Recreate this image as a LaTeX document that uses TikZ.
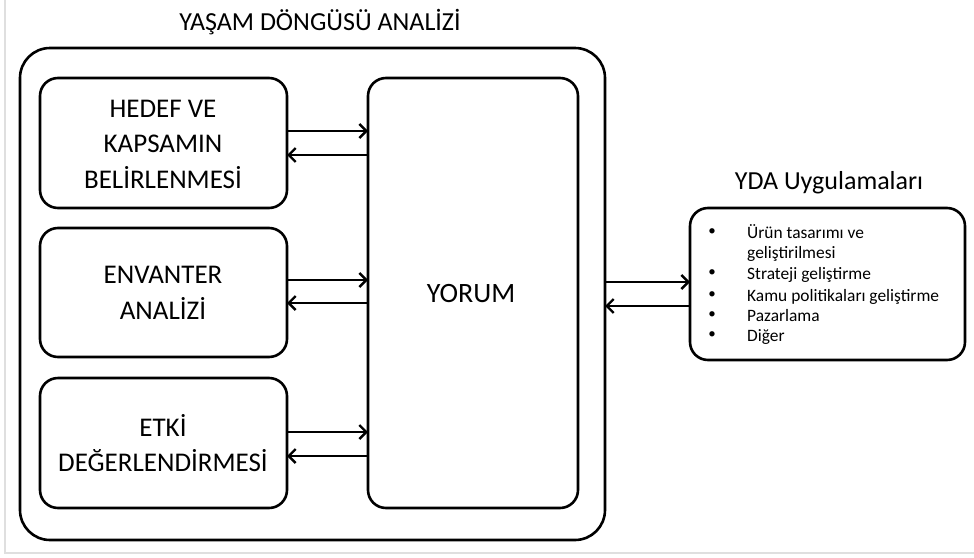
\documentclass[tikz,border=0pt]{standalone}
\usepackage{fontspec}
\setmainfont{Carlito}
\usetikzlibrary{arrows.meta}
\tikzset{
  panel/.style={draw=black, line width=2.6pt, rounded corners=30pt, fill=white},
  stage/.style={draw=black, line width=2.6pt, rounded corners=18pt, fill=white},
  flow/.style={line width=2.4pt, -{Straight Barb[length=7pt,width=14pt,line width=2.4pt]}},
  bigtext/.style={font=\fontsize{27}{35.5}\selectfont, align=center},
  listtext/.style={font=\fontsize{17.4}{20.7}\selectfont, anchor=base west, inner sep=0pt},
  bullet/.style={font=\fontsize{15}{18}\selectfont},
}
\begin{document}
\begin{tikzpicture}[x=1pt,y=-1pt]
  \useasboundingbox (0,0) rectangle (974,557);
  % page frame
  \draw[gray!25, line width=1.5pt] (5,0) -- (5,553) -- (974,553);

  % life cycle analysis frame
  \node[font=\fontsize{26}{30}\selectfont] (title) at (320,22) {YAŞAM DÖNGÜSÜ ANALİZİ};
  \draw[panel] (20,48) rectangle (605,540);

  % stages
  \draw[stage] (40,78) rectangle (287,208);
  \node[bigtext] (goal) at (163,144) {HEDEF VE\\KAPSAMIN\\BELİRLENMESİ};
  \draw[stage] (40,228) rectangle (287,357);
  \node[bigtext] (inv) at (163,293) {ENVANTER\\ANALİZİ};
  \draw[stage] (40,378) rectangle (287,508);
  \node[bigtext] (imp) at (163,443) {ETKİ\\DEĞERLENDİRMESİ};

  % interpretation
  \draw[stage] (368,78) rectangle (578,508);
  \node[font=\fontsize{28}{32}\selectfont] (yorum) at (471,294) {YORUM};

  % stage <-> interpretation arrows
  \coordinate (g1) at (287,131); \coordinate (y1) at (368,131);
  \coordinate (g2) at (368,155); \coordinate (y2) at (287,155);
  \draw[flow] (g1) -- (y1);
  \draw[flow] (g2) -- (y2);
  \coordinate (i1) at (287,280); \coordinate (j1) at (368,280);
  \coordinate (i2) at (368,303); \coordinate (j2) at (287,303);
  \draw[flow] (i1) -- (j1);
  \draw[flow] (i2) -- (j2);
  \coordinate (e1) at (287,432); \coordinate (f1) at (368,432);
  \coordinate (e2) at (368,456); \coordinate (f2) at (287,456);
  \draw[flow] (e1) -- (f1);
  \draw[flow] (e2) -- (f2);

  % applications
  \node[font=\fontsize{26}{30}\selectfont] (apptitle) at (829,183) {YDA Uygulamaları};
  \draw[stage] (690,208) rectangle (965,360);
  \coordinate (a1) at (605,282); \coordinate (b1) at (690,282);
  \coordinate (a2) at (690,306); \coordinate (b2) at (605,306);
  \draw[flow] (a1) -- (b1);
  \draw[flow] (a2) -- (b2);

  \foreach \yy in {232,273,295,315,335}
    \node[bullet] at (712,\yy) {•};
  \node[listtext] (app1) at (747,238) {Ürün tasarımı ve};
  \node[listtext] (app1b) at (747,258) {geliştirilmesi};
  \node[listtext] (app2) at (747,279) {Strateji geliştirme};
  \node[listtext] (app3) at (747,301) {Kamu politikaları geliştirme};
  \node[listtext] (app4) at (747,321) {Pazarlama};
  \node[listtext] (app5) at (747,341) {Diğer};
\end{tikzpicture}
\end{document}
